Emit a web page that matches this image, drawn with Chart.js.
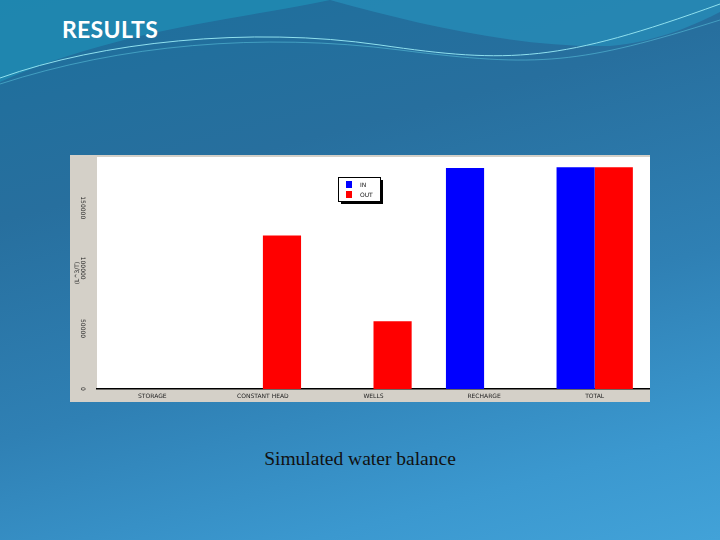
<!DOCTYPE html>
<html><head><meta charset="utf-8">
<script src="https://cdn.jsdelivr.net/npm/chart.js@4/dist/chart.umd.min.js"></script>
<style>
html,body{margin:0;padding:0;width:720px;height:540px;overflow:hidden}
body{position:relative;background:linear-gradient(165deg,#1d6f9c 0%,#276f9e 30%,#2f80b4 60%,#3b98cf 85%,#42a2d8 100%)}
#bg{position:absolute;left:0;top:0}
#title{position:absolute;left:62px;top:15px;font-family:Lato,"Open Sans",sans-serif;font-weight:bold;font-size:23px;color:#fff;letter-spacing:0.3px}
#panel{position:absolute;left:70px;top:155px;width:580px;height:247px;background:#d4d0c8}
#c{position:absolute;left:70px;top:155px}
#cap{position:absolute;left:0;width:720px;top:448px;text-align:center;font-family:"Liberation Serif","DejaVu Serif",serif;font-size:19.5px;color:#111}
</style></head><body>
<svg id="bg" width="720" height="120" viewBox="0 0 720 120">
<path d="M0,0 H330 C250,18 120,28 0,82 Z" fill="#1f8cb4" opacity="0.8"/>
<path d="M330,0 C420,25 520,48 610,46 C660,42 700,22 720,12 V0 Z" fill="#2690ba" opacity="0.7"/>
<path d="M0,78 C100,42 250,26 380,45 S 560,62 720,4" fill="none" stroke="#8fe0ee" stroke-width="1"/>
<path d="M0,84 C120,45 260,32 400,50 S 580,64 720,20" fill="none" stroke="#5cc3dc" stroke-width="0.8" opacity="0.7"/>
</svg>
<div id="title">RESULTS</div>
<div id="panel"></div>
<canvas id="c" width="580" height="247"></canvas>
<div id="cap">Simulated water balance</div>
<script>
const categories = ['STORAGE','CONSTANT HEAD','WELLS','RECHARGE','TOTAL'];
const inValues  = [0, 0, 0, 183000, 183500];
const outValues = [0, 127000, 56000, 0, 183500];
const yTicks = [0, 50000, 100000, 150000];
const seriesNames = ['IN', 'OUT'];

const bgPlugin = {
  id:'bgp',
  beforeDraw(chart){
    const {ctx, chartArea:a} = chart;
    ctx.save();
    ctx.fillStyle='#d4d0c8';
    ctx.fillRect(0,0,chart.width,chart.height);
    ctx.fillStyle='#ffffff';
    ctx.fillRect(a.left,a.top,a.right-a.left,a.bottom-a.top);
    ctx.restore();
  }
};
const legendBox = {
  id:'legbox',
  afterDraw(chart){
    const ctx = chart.ctx;
    const x = 268, y = 22, w = 42, h = 24;
    ctx.save();
    ctx.fillStyle='#000';
    ctx.fillRect(x+3,y+3,w,h);
    ctx.fillStyle='#fff';
    ctx.fillRect(x,y,w,h);
    ctx.strokeStyle='#000'; ctx.lineWidth=1;
    ctx.strokeRect(x+0.5,y+0.5,w,h);
    chart.data.datasets.forEach((ds,i)=>{
      ctx.fillStyle=ds.backgroundColor;
      ctx.fillRect(x+8,y+4+i*10,6,7);
      ctx.fillStyle='#111';
      ctx.font='6px "DejaVu Sans"';
      ctx.textBaseline='middle';
      ctx.fillText(ds.label,x+22,y+8+i*10);
    });
    ctx.restore();
  }
};

new Chart(document.getElementById('c'), {
  type:'bar',
  data:{
    labels:categories,
    datasets:[
      {label:seriesNames[0], data:inValues, backgroundColor:'#0000ff', borderWidth:0},
      {label:seriesNames[1], data:outValues, backgroundColor:'#ff0000', borderWidth:0}
    ]
  },
  options:{
    responsive:false, animation:false, devicePixelRatio:1,
    layout:{padding:{top:2,right:0,left:0,bottom:0}},
    categoryPercentage:0.69, barPercentage:1.0,
    plugins:{legend:{display:false}, tooltip:{enabled:false}},
    scales:{
      x:{
        grid:{display:false, drawTicks:false},
        border:{display:true,color:'#000',width:1.5},
        ticks:{font:{size:6,family:'DejaVu Sans'},color:'#222',padding:4,maxRotation:0,minRotation:0,autoSkip:false},
        afterFit(s){ s.height = 13; s.paddingLeft = 0; s.paddingRight = 0; }
      },
      y:{
        min:0, max:192000,
        afterBuildTicks(s){ s.ticks = yTicks.map(v=>({value:v})); },
        grid:{display:false, drawTicks:false},
        border:{display:false},
        ticks:{font:{size:6,family:'DejaVu Sans'},color:'#222',padding:3,minRotation:-90,maxRotation:-90,crossAlign:'center',
               callback:(v)=>String(v)},
        title:{display:true,text:'(L^3/T)',font:{size:6,family:'DejaVu Sans'},color:'#222',padding:{top:4,bottom:0}},
        afterFit(s){ s.width = 27; s.paddingTop = 0; s.paddingBottom = 0; }
      }
    }
  },
  plugins:[bgPlugin, legendBox]
});
</script>
</body></html>
